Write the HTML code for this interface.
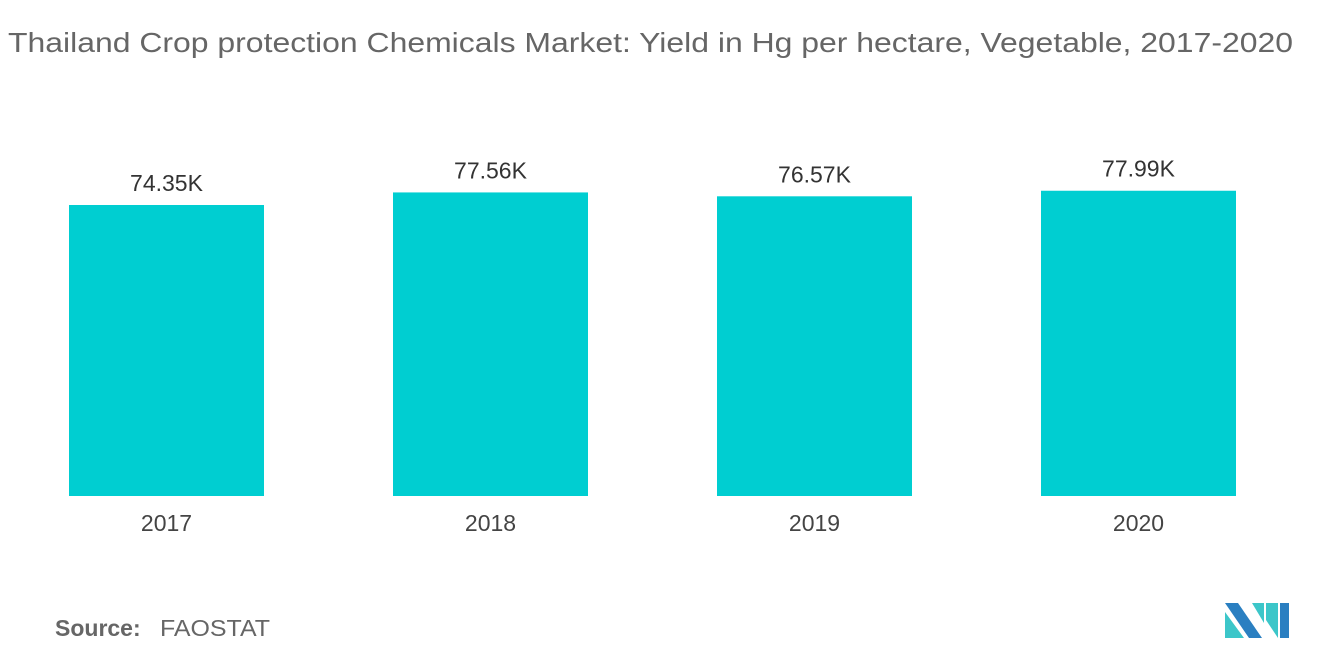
<!DOCTYPE html>
<html><head><meta charset="utf-8"><style>
body{margin:0;background:#fff;font-family:"Liberation Sans",sans-serif;}
</style></head><body>
<svg width="1320" height="665" xmlns="http://www.w3.org/2000/svg">
<text x="8" y="52" font-size="28" fill="#666" textLength="1285" lengthAdjust="spacingAndGlyphs">Thailand Crop protection Chemicals Market: Yield in Hg per hectare, Vegetable,  2017-2020</text>
<g id="bars"></g>
<text x="55" y="636" font-size="23" fill="#666" font-weight="bold">Source:</text>
<text x="160" y="636" font-size="23" fill="#666" textLength="110" lengthAdjust="spacingAndGlyphs">FAOSTAT</text>
<g>
<polygon points="1225,603 1238,603 1262,638 1249,638" fill="#2a7fc1"/>
<polygon points="1225,612 1225,638 1244,638" fill="#3cc6c9"/>
<polygon points="1252,603 1264,603 1264,623" fill="#3cc6c9"/>
<polygon points="1266,603 1278,603 1278,638 1266,620" fill="#3cc6c9"/>
<polygon points="1280,603 1289,603 1289,638 1280,638" fill="#2a7fc1"/>
</g>
</svg>
<script>
const categories=["2017","2018","2019","2020"];
const values=[74.35,77.56,76.57,77.99];
const labels=["74.35K","77.56K","76.57K","77.99K"];
const g=document.getElementById('bars');
const ns="http://www.w3.org/2000/svg";
const base=496, scale=3.914, x0=166.5, step=324, bw=195;
const y=v=>base-v*scale;
categories.forEach((c,i)=>{
  const cx=x0+i*step;
  const r=document.createElementNS(ns,'rect');
  
  
  r.setAttribute('x',cx-bw/2);r.setAttribute('y',y(values[i]));
  r.setAttribute('width',bw);r.setAttribute('height',base-y(values[i]));
  r.setAttribute('fill','#00ced1');g.appendChild(r);
  const t=document.createElementNS(ns,'text');
  
  
  t.setAttribute('x',cx);t.setAttribute('y',y(values[i])-14);
  t.setAttribute('text-anchor','middle');t.setAttribute('font-size','23');t.setAttribute('fill','#333');
  t.textContent=labels[i];g.appendChild(t);
  const a=document.createElementNS(ns,'text');
  
  
  a.setAttribute('x',cx);a.setAttribute('y',531);
  a.setAttribute('text-anchor','middle');a.setAttribute('font-size','23');a.setAttribute('fill','#444');
  a.textContent=c;g.appendChild(a);
});
</script>
</body></html>
